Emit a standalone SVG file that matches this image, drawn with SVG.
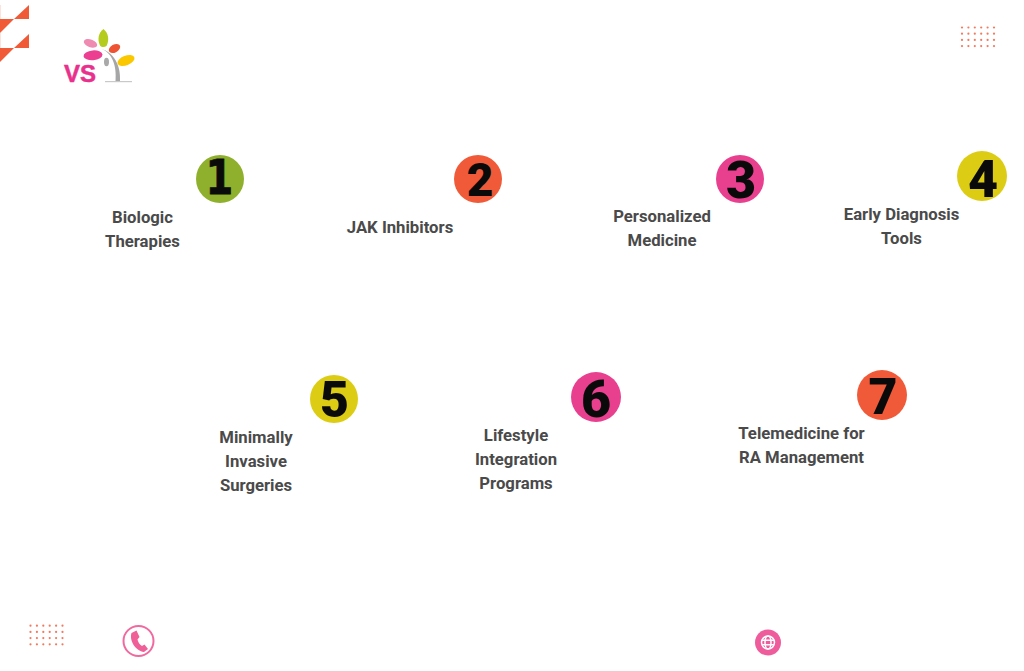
<svg xmlns="http://www.w3.org/2000/svg" width="1024" height="671" viewBox="0 0 1024 671">
<defs>
<style>
.l{font-family:"Roboto","Liberation Sans",sans-serif;font-weight:700;font-size:16.7px;fill:#4a4a4a;text-anchor:middle}
.n{font-family:"Roboto","Liberation Sans",sans-serif;font-weight:900;font-size:50px;fill:#0a0a0a;text-anchor:middle}
.o{font-family:"DejaVu Sans",sans-serif;font-weight:700;font-size:38px;fill:#0a0a0a;stroke:#0a0a0a;stroke-width:.6px;text-anchor:middle}
</style>
<g id="dotgrid" fill="#f4785c">
<g id="dotrow"><circle cx="0" cy="0" r="1.100"/><circle cx="6.400" cy="0" r="1.100"/><circle cx="12.800" cy="0" r="1.100"/><circle cx="19.200" cy="0" r="1.100"/><circle cx="25.600" cy="0" r="1.100"/><circle cx="32" cy="0" r="1.100"/></g>
<use href="#dotrow" y="6.200"/><use href="#dotrow" y="12.400"/><use href="#dotrow" y="18.600"/>
</g>
</defs>
<rect width="1024" height="671" fill="#fff"/>
<g id="corner" fill="#f15a36">
<path d="M29 5V19H14Z"/>
<path d="M0 19H14L0 33Z"/>
<path d="M29 34V48H14Z"/>
<path d="M0 48H14L0 62Z"/>
<rect x="0" y="5" width="1" height="14" fill="#fde3db"/>
<rect x="0" y="33" width="1" height="15" fill="#fde3db"/>
</g>
<g id="logo">
<path d="M103.500 29C108.500 33 109.500 40 106.500 46C104.500 47.500 101.500 47.500 100 45.500C97 39 98.500 33 103.500 29Z" fill="#b5cc1f"/>
<ellipse cx="90.500" cy="43.300" rx="7" ry="3.900" transform="rotate(20 90.500 43.300)" fill="#ef8ab0"/>
<ellipse cx="114.500" cy="48.500" rx="6.200" ry="3.900" transform="rotate(-30 114.500 48.500)" fill="#ee5433"/>
<ellipse cx="93" cy="55.300" rx="9.500" ry="4.900" transform="rotate(-5 93 55.300)" fill="#ec3f92"/>
<ellipse cx="126" cy="60.500" rx="9" ry="4.800" transform="rotate(-22 126 60.500)" fill="#fbc800"/>
<ellipse cx="106.500" cy="62" rx="2.500" ry="4.200" fill="#a9a9a9"/>
<path d="M101 49C112 52 117 66 115.500 81H120C121 66 114 52 101 49Z" fill="#a6a6a6"/>
<rect x="105" y="81" width="27" height="1.200" fill="#c9c9c9"/>
<text x="64" y="82" font-family="'Liberation Sans',sans-serif" font-weight="700" font-size="24" fill="#e8308c" stroke="#e8308c" stroke-width=".5">VS</text>
</g>
<g id="dots-top"><use href="#dotgrid" x="962" y="27.500"/></g>
<g id="dots-bottom"><use href="#dotgrid" x="30.500" y="625.700"/></g>
<g id="phone">
<circle cx="138.500" cy="641" r="15" fill="none" stroke="#f06a9f" stroke-width="2"/>
<path d="M131.500 633L136.500 630.500L139.500 637L137.500 639.500C138 642 139.500 644.500 142 646L144.500 644.500L148 649L144 652C136 651 129 641 131.500 633Z" fill="#ef5f98"/>
</g>
<g id="globe">
<circle cx="768" cy="642.500" r="13" fill="#ee5c9c"/>
<g fill="none" stroke="#fff" stroke-width="1.500">
<circle cx="768" cy="642.500" r="6.500"/>
<ellipse cx="768" cy="642.500" rx="3" ry="6.500"/>
<path d="M762 640.300H774M762 644.700H774"/>
</g>
</g>
<g id="node1"><circle cx="220" cy="179" r="24" fill="#8fb02c"/><text class="o" transform="translate(219.500 193.500) scale(1.05 1.26)">1</text><text class="l"><tspan x="142.500" y="222.500">Biologic</tspan><tspan x="142.500" y="246.500">Therapies</tspan></text></g>
<g id="node2"><circle cx="478" cy="179" r="24" fill="#f05a38"/><text class="n" x="480" y="196" style="font-size:46px">2</text><text class="l" x="400" y="233">JAK Inhibitors</text></g>
<g id="node3"><circle cx="740" cy="179" r="24" fill="#e83f8f"/><text class="n" x="741" y="198" style="font-size:52px">3</text><text class="l"><tspan x="662" y="222">Personalized</tspan><tspan x="662" y="246">Medicine</tspan></text></g>
<g id="node4"><circle cx="982" cy="176" r="25" fill="#dccd14"/><text class="n" x="983" y="197" style="font-size:52px">4</text><text class="l"><tspan x="901.500" y="219.500">Early Diagnosis</tspan><tspan x="901.500" y="243.500">Tools</tspan></text></g>
<g id="node5"><circle cx="334" cy="399" r="24" fill="#dccd14"/><text class="n" x="334.500" y="417">5</text><text class="l"><tspan x="256" y="442.500">Minimally</tspan><tspan x="256" y="466.500">Invasive</tspan><tspan x="256" y="490.500">Surgeries</tspan></text></g>
<g id="node6"><circle cx="596" cy="397" r="25" fill="#e83f8f"/><text class="n" x="596" y="416.500" style="font-size:52px">6</text><text class="l"><tspan x="516" y="440.500">Lifestyle</tspan><tspan x="516" y="464.500">Integration</tspan><tspan x="516" y="488.500">Programs</tspan></text></g>
<g id="node7"><circle cx="882" cy="395" r="25" fill="#f05a38"/><text class="n" x="883" y="414" style="font-size:50px">7</text><text class="l"><tspan x="801.500" y="438.500">Telemedicine for</tspan><tspan x="801.500" y="462.500">RA Management</tspan></text></g>
<g id="connectors"></g>
</svg>
